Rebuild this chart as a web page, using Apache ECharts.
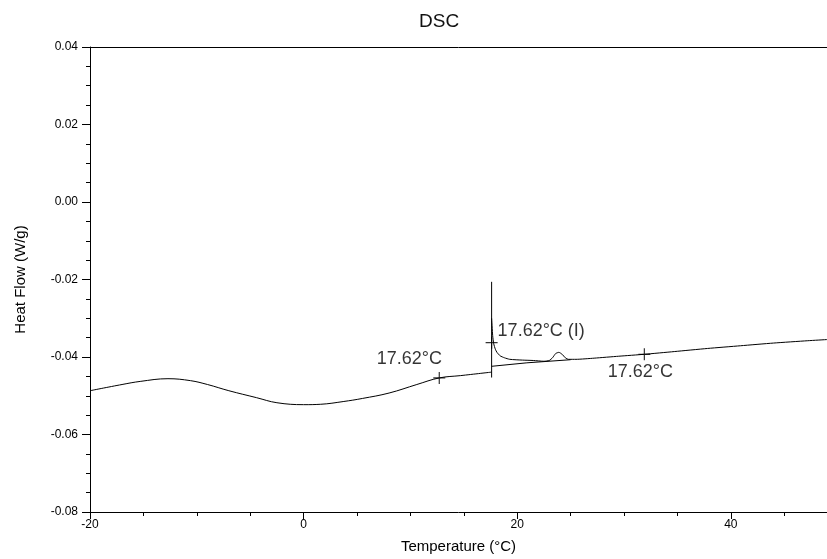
<!DOCTYPE html>
<html>
<head>
<meta charset="utf-8">
<script src="https://cdn.jsdelivr.net/npm/echarts@6/dist/echarts.min.js"></script>
<style>html,body{margin:0;padding:0;background:#fff;}#c{width:827px;height:559px;}</style>
</head>
<body>
<div id="c"></div>
<script>
// Main DSC curve (temperature °C, heat flow W/g)
var mainT = [-20, -17, -15.3, -12.7, -10.6, -9, -7, -4.4, -2.5, 0, 1.6, 3.7, 5.5, 8, 10.6, 12.7, 14.7, 17.6];
var mainV = [-0.0487, -0.0471, -0.0463, -0.0456, -0.0461, -0.0471, -0.0487, -0.0505, -0.0518, -0.0523, -0.0522, -0.0515, -0.0507, -0.0493, -0.0471, -0.0454, -0.0448, -0.0439];
// Vertical spike at the transition
var spikeT = [17.6, 17.6];
var spikeV = [-0.0453, -0.0206];
// Decay after the spike and remaining curve
var decayT = [17.6, 17.7, 17.8, 17.95, 18.1, 18.4, 18.8, 19.3, 20.5, 21.5, 22.5, 23.0, 23.3, 23.6, 23.9, 24.2, 24.5, 24.8, 25.5, 27.2, 29.5, 31.9, 34.7, 37.8, 40.9, 44.0, 47.2, 49.0];
var decayV = [-0.0300, -0.0345, -0.0366, -0.0380, -0.0388, -0.0397, -0.0402, -0.0406, -0.0408, -0.0409, -0.0411, -0.0409, -0.0402, -0.0391, -0.0388, -0.0393, -0.0402, -0.0406, -0.0406, -0.0403, -0.0398, -0.0393, -0.0386, -0.0378, -0.0371, -0.0364, -0.0358, -0.0355];
// Baseline below the decay
var baseT = [17.6, 20.9, 25.0];
var baseV = [-0.0424, -0.0415, -0.0407];
// Analysis markers and labels
var markT = [12.7, 17.6, 31.9];
var markV = [-0.0454, -0.0363, -0.0393];
var markLabels = ['17.62°C', '17.62°C (I)', '17.62°C'];
// Axis settings
var xMin = -20, xMax = 49, xStep = 20;
var yMin = -0.08, yMax = 0.04, yStep = 0.02;

function pairs(t, v) { return t.map(function (x, i) { return [x, v[i]]; }); }

var FONT = 'Liberation Sans';
var labelPos = [
  { offset: [-30, -19], align: 'center' },
  { offset: [6, -12], align: 'left' },
  { offset: [-4, 18], align: 'center' }
];
var markData = markT.map(function (t, i) {
  return {
    value: [t, markV[i]],
    label: {
      show: true, formatter: markLabels[i], position: 'inside',
      offset: labelPos[i].offset, align: labelPos[i].align, verticalAlign: 'middle',
      color: '#000', fontSize: 18, fontFamily: FONT
    }
  };
});

var chart = echarts.init(document.getElementById('c'), null, { renderer: 'canvas' });
var lineStyle = { color: '#000', width: 1 };
chart.setOption({
  animation: false,
  backgroundColor: '#fff',
  title: {
    text: 'DSC', left: 414, top: 7,
    textStyle: { fontFamily: FONT, fontSize: 19, fontWeight: 'normal', color: '#111' }
  },
  grid: { left: 90, right: 0, top: 47, bottom: 46.5, containLabel: false },
  xAxis: [{
    type: 'value', min: xMin, max: xMax, interval: xStep,
    name: 'Temperature (°C)', nameLocation: 'middle', nameGap: 27,
    nameTextStyle: { fontFamily: FONT, fontSize: 15, color: '#000' },
    axisLine: { show: true, onZero: false, lineStyle: { color: '#000', width: 1 } },
    axisTick: { show: true, length: 7, inside: false, lineStyle: { color: '#000' } },
    minorTick: { show: true, splitNumber: 4, length: 4, lineStyle: { color: '#000' } },
    axisLabel: { fontFamily: FONT, fontSize: 12, color: '#000', margin: 7, showMaxLabel: false },
    splitLine: { show: false }
  }, {
    type: 'value', position: 'top', min: xMin, max: xMax,
    axisLine: { show: true, onZero: false, lineStyle: { color: '#000', width: 1 } },
    axisTick: { show: false }, axisLabel: { show: false }, splitLine: { show: false }
  }],
  yAxis: {
    type: 'value', min: yMin, max: yMax, interval: yStep,
    name: 'Heat Flow (W/g)', nameLocation: 'middle', nameGap: 62, nameRotate: 90,
    nameTextStyle: { fontFamily: FONT, fontSize: 15, color: '#000' },
    axisLine: { show: true, onZero: false, lineStyle: { color: '#000', width: 1 } },
    axisTick: { show: true, length: 8, lineStyle: { color: '#000' } },
    minorTick: { show: true, splitNumber: 4, length: 4, lineStyle: { color: '#000' } },
    axisLabel: {
      fontFamily: FONT, fontSize: 12, color: '#000', margin: 12,
      formatter: function (v) { return (Math.abs(v) < 1e-9 ? 0 : v).toFixed(2); }
    },
    splitLine: { show: false }
  },
  series: [
    { type: 'line', data: pairs(mainT, mainV), smooth: 0.4, showSymbol: false, lineStyle: lineStyle, silent: true },
    { type: 'line', data: pairs(spikeT, spikeV), showSymbol: false, lineStyle: lineStyle, silent: true },
    { type: 'line', data: pairs(decayT, decayV), smooth: 0.2, showSymbol: false, lineStyle: lineStyle, silent: true },
    { type: 'line', data: pairs(baseT, baseV), showSymbol: false, lineStyle: lineStyle, silent: true },
    {
      type: 'scatter', data: markData, symbol: 'path://M4.5,0H5.5V10H4.5ZM0,4.5H10V5.5H0Z',
      symbolSize: 12, itemStyle: { color: '#000' }, silent: true, z: 5
    }
  ]
});
</script>
</body>
</html>
